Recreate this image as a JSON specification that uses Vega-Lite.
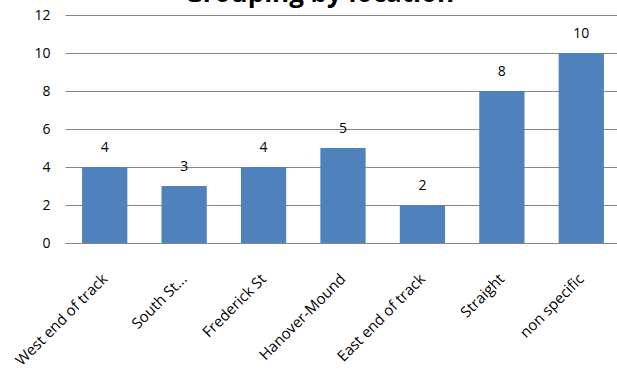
{
  "$schema": "https://vega.github.io/schema/vega-lite/v6.json",
  "autosize": "none",
  "width": 556,
  "height": 228,
  "padding": {"left": 65, "top": 15, "right": 0, "bottom": 146},
  "background": "white",
  "title": {
    "text": "Grouping by location",
    "font": "Open Sans",
    "fontSize": 26,
    "fontWeight": "bold",
    "color": "#000000",
    "baseline": "alphabetic",
    "anchor": "middle",
    "offset": 0,
    "dy": 20,
    "dx": -24
  },
  "config": {"view": {"stroke": null}},
  "data": {
    "values": [
      {"location": "West end of track", "count": 4},
      {"location": "South St...", "count": 3},
      {"location": "Frederick St", "count": 4},
      {"location": "Hanover-Mound", "count": 5},
      {"location": "East end of track", "count": 2},
      {"location": "Straight", "count": 8},
      {"location": "non specific", "count": 10}
    ]
  },
  "encoding": {
    "x": {
      "field": "location",
      "type": "nominal",
      "sort": null,
      "scale": {"paddingInner": 0.43, "paddingOuter": 0.215},
      "axis": {
        "title": null,
        "labelAngle": -45,
        "labelAlign": "right",
        "labelBaseline": "middle",
        "ticks": false,
        "labelPadding": 33,
        "domainColor": "#868686",
        "labelFont": "Open Sans",
        "labelFontSize": 15,
        "labelColor": "#000000"
      }
    },
    "y": {
      "field": "count",
      "type": "quantitative",
      "scale": {"domain": [0, 12]},
      "axis": {
        "title": null,
        "values": [0, 2, 4, 6, 8, 10, 12],
        "domain": false,
        "ticks": false,
        "labelPadding": 15,
        "gridColor": "#868686",
        "labelFont": "Open Sans",
        "labelFontSize": 14,
        "labelColor": "#000000"
      }
    }
  },
  "layer": [
    {"mark": {"type": "bar", "color": "#4F81BD"}},
    {
      "mark": {"type": "text", "dy": -19, "baseline": "middle", "font": "Open Sans", "fontSize": 14, "color": "#000000"},
      "encoding": {"text": {"field": "count", "type": "quantitative"}}
    }
  ]
}
